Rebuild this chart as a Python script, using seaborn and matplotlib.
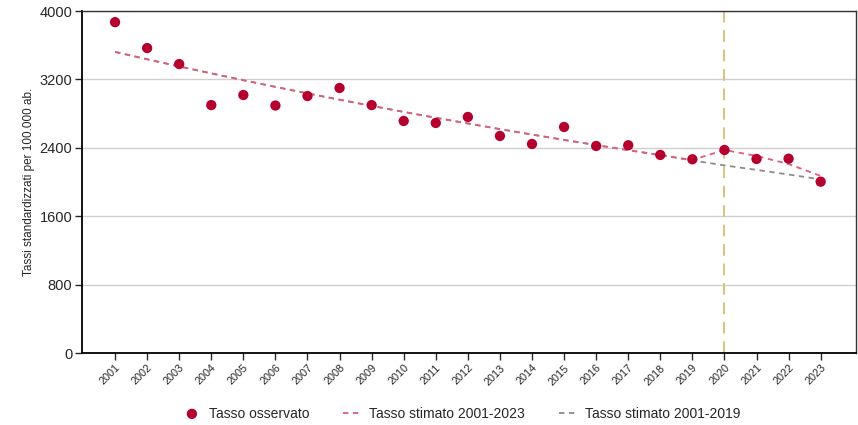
import matplotlib
matplotlib.use('Agg')
import matplotlib.pyplot as plt
import seaborn as sns
import pandas as pd

years = list(range(2001, 2024))
observed = [3870, 3567, 3380, 2900, 3018, 2895, 3006, 3100, 2900, 2714, 2691, 2761,
            2539, 2445, 2644, 2422, 2430, 2317, 2266, 2375, 2270, 2273, 2004]
# trend 2001-2023 (joinpoint)
fit_2023 = [3522, 3436, 3352, 3271, 3191, 3113, 3037, 2963, 2891, 2820, 2752, 2685,
            2619, 2555, 2493, 2432, 2373, 2315, 2258, 2375, 2305, 2211, 2071]
# trend 2001-2019 projected to 2023
fit_2019 = [3522, 3436, 3352, 3271, 3191, 3113, 3037, 2963, 2891, 2820, 2752, 2685,
            2619, 2555, 2493, 2432, 2373, 2315, 2252, 2195, 2142, 2088, 2031]

df = pd.DataFrame({'anno': years, 'oss': observed, 'f23': fit_2023, 'f19': fit_2019})

sns.set_style('white')
plt.rcParams['font.family'] = ['Liberation Sans', 'DejaVu Sans']

fig = plt.figure(figsize=(8.58, 4.25), dpi=100)
ax = fig.add_axes([0.0956, 0.1694, 0.902, 0.8046])

ax.axvline(2020, color='#d9c27a', lw=1.4, ls=(0, (6, 4)), zorder=1)
sns.lineplot(data=df, x='anno', y='f19', ax=ax, color='#8c8c8c', lw=1.3,
             ls=(0, (3, 2.5)), label='Tasso stimato 2001-2019', zorder=2)
sns.lineplot(data=df, x='anno', y='f23', ax=ax, color='#dc5f7d', lw=1.3,
             ls=(0, (3, 2.5)), label='Tasso stimato 2001-2023', zorder=3)
sns.scatterplot(data=df, x='anno', y='oss', ax=ax, color='#b5002f', s=55,
                edgecolor='none', label='Tasso osservato', zorder=4)

ax.set_xlim(1999.97, 2024.1)
ax.set_ylim(0, 4000)
ax.set_yticks([0, 800, 1600, 2400, 3200, 4000])
ax.set_xticks(years)
ax.set_xticklabels([str(y) for y in years], rotation=45, ha='right',
                   rotation_mode='anchor', fontsize=7.8)
ax.tick_params(axis='y', labelsize=10.5, length=5, width=1, direction='out', left=True, pad=2)
ax.tick_params(axis='x', length=5, width=1, direction='out', bottom=True, pad=2)
ax.yaxis.grid(True, color='#d0d0d0', lw=1)
ax.set_axisbelow(True)
ax.set_xlabel('')
ax.set_ylabel('Tassi standardizzati per 100.000 ab.', fontsize=8.5, labelpad=3)
for side in ['left', 'bottom']:
    ax.spines[side].set_color('black')
    ax.spines[side].set_linewidth(1.3)
for side in ['top', 'right']:
    ax.spines[side].set_color('#333333')
    ax.spines[side].set_linewidth(1)

handles, labels = ax.get_legend_handles_labels()
order = [2, 1, 0]
ax.legend_.remove()
fig.legend([handles[i] for i in order], [labels[i] for i in order],
           loc='center', bbox_to_anchor=(0.538, 0.027), ncol=3, frameon=False,
           fontsize=10, columnspacing=2.4, handlelength=1.3, handletextpad=0.6)

fig.savefig('out.png', dpi=100)
